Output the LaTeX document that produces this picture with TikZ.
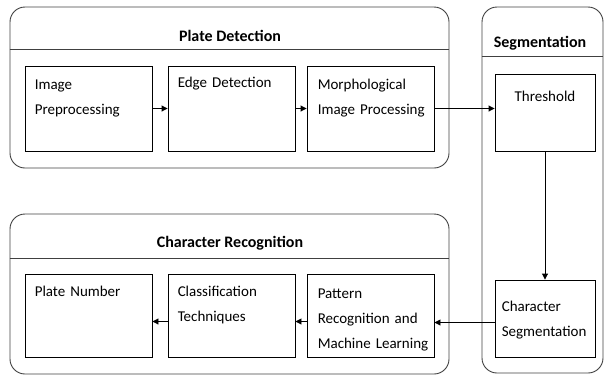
\documentclass[tikz,border=0pt]{standalone}
\usepackage{fontspec}
\setmainfont{Carlito}
\usepackage{tikz}
\usetikzlibrary{arrows.meta}

\begin{document}
\begin{tikzpicture}[x=1pt,y=-1pt,
    grp/.style={draw=black!75,line width=0.9pt,rounded corners=15pt,inner sep=0pt},
    stage/.style={draw,line width=0.9pt,inner sep=0pt},
    txt/.style={anchor=base west,inner sep=0pt,text width=120pt,align=left,
        font=\fontsize{15}{25}\selectfont},
    ttl/.style={anchor=base,inner sep=0pt,font=\fontsize{16}{19}\selectfont\bfseries},
    flow/.style={-{Triangle[length=6pt,width=6pt]},line width=0.9pt}]
            \useasboundingbox (0,0) rectangle (605,378);
            % groups
            \node[grp,minimum width=439pt,minimum height=161pt] (plate) at (229.5,87.5) {};
            \node[grp,minimum width=121pt,minimum height=366pt] (seg) at (542.5,190) {};
            \node[grp,minimum width=439pt,minimum height=160pt] (crec) at (229.5,294) {};
            \draw[black!75,line width=0.9pt] (plate.west |- 0,49) -- (plate.east |- 0,49);
            \draw[black!75,line width=0.9pt] (seg.west |- 0,56) -- (seg.east |- 0,56);
            \draw[black!75,line width=0.9pt] (crec.west |- 0,258) -- (crec.east |- 0,258);
            \node[ttl] (plateT) at (230,41) {Plate Detection};
            \node[ttl] (segT) at (540,47) {Segmentation};
            \node[ttl] (crecT) at (230,247) {Character Recognition};
            % stages
            \foreach \n/\x in {pre/88.5,edge/231.5,morph/370.5} {
                \node[stage,minimum width=127pt,minimum height=85pt] (\n) at (\x,108.5) {};
            }
            \foreach \n/\x in {plnum/88.5,cls/231.5,pat/370.5} {
                \node[stage,minimum width=127pt,minimum height=83pt] (\n) at (\x,315.5) {};
            }
            \node[stage,minimum width=100pt,minimum height=77pt] (thr) at (545,112.5) {};
            \node[stage,minimum width=100pt,minimum height=77pt] (cseg) at (545,318.5) {};
            \node[txt] (preT) at ([shift={(10,24)}]pre.north west) {Image\\Preprocessing};
            \node[txt] (edgeT) at ([shift={(10,22)}]edge.north west) {Edge Detection};
            \node[txt] (morphT) at ([shift={(11,24)}]morph.north west) {Morphological\\Image Processing};
            \node[txt,anchor=base,text width=90pt,align=center] (thrT) at ([shift={(0,28)}]thr.north) {Threshold};
            \node[txt] (csegT) at ([shift={(7,32)}]cseg.north west) {Character\\Segmentation};
            \node[txt] (patT) at ([shift={(11,25)}]pat.north west) {Pattern\\Recognition and\\Machine Learning};
            \node[txt] (clsT) at ([shift={(10,23)}]cls.north west) {Classification\\Techniques};
            \node[txt] (plnumT) at ([shift={(10,23)}]plnum.north west) {Plate Number};
            % flow
            \draw[flow] (pre) -- (edge);
            \draw[flow] (edge) -- (morph);
            \draw[flow] (morph.east) -- (morph.east -| thr.west);
            \draw[flow] (thr) -- (cseg);
            \draw[flow] ([yshift=-4pt]cseg.west) -- ([yshift=-4pt]cseg.west -| pat.east);
            \draw[flow] ([yshift=-6pt]pat.west) -- ([yshift=-6pt]cls.east);
            \draw[flow] ([yshift=-6pt]cls.west) -- ([yshift=-6pt]plnum.east);
        \end{tikzpicture}
\end{document}
